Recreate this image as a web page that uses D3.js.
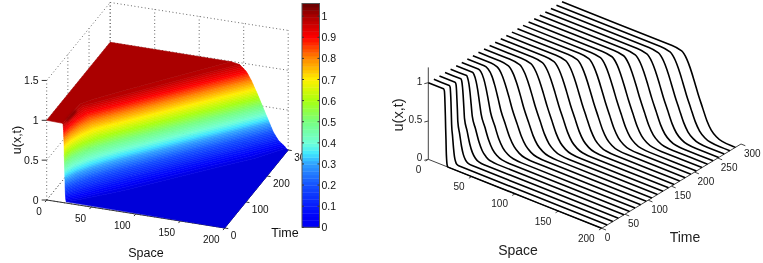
<!DOCTYPE html>
<html><head><meta charset="utf-8">
<style>html,body{margin:0;padding:0;background:#fff}svg{display:block;filter:blur(0.35px)}text{font-family:"Liberation Sans",Arial,sans-serif}</style>
<script src="https://cdn.jsdelivr.net/npm/d3@7"></script></head><body>
<svg id="c" width="763" height="263"></svg>
<script>
// Solution levels
const uLevels = [1,0.98,0.9,0.8,0.65,0.5,0.35,0.2,0.1,0.04,0.01,0];
// Left surface: times sampled, and the space position where u crosses each level
const surfaceTimes = [0,6,12,25,50,75,100,150,200,250,300];
const surfaceCrossings = [
[17.5,18.5,19,19.3,19.7,20,20.4,20.7,21.1,21.5,22,22.7],
[17.8,18.8,19.3,19.6,20,20.3,21.4,22.6,23.7,25,26.5,28.8],
[18,19,19.6,19.9,20.4,20.8,22.8,24.7,26.7,29,31.6,35.6],
[18.3,19.3,20.3,21,21.8,22.5,26,29.5,33,37,41.6,48.6],
[18.5,19.8,23,25.1,27.7,30,35.3,40.6,45.8,52,59,69.6],
[19,22,27.9,31.9,36.6,41,47.2,53.5,59.7,67,75.3,87.8],
[26,36,41.6,45.4,49.9,54,60.5,67,73.4,81,89.6,102.6],
[52,63,69.2,73.4,78.4,83,89.5,96,102.4,110,118.6,131.6],
[78,90,96.8,101.4,106.9,112,118.5,125,131.4,139,147.6,160.6],
[105,117,124.6,129.7,135.9,141.5,147.9,154.2,160.6,168,176.5,189.2],
[132,145,153.1,158.5,165,171,177,183,189,196,198,199.5]];
// Right waterfall: time of each curve, and its level crossings
const curveTimes = [0,12,24,36,48,60,72,84,96,108,120,132,144,156,168,180,192,204,216,228,240,252,264,276,288];
const curveCrossings = [
[17.5,18.5,19,19.3,19.7,20,20.4,20.7,21.1,21.5,22,22.7],
[17.8,18.8,19.3,19.7,20.1,20.5,21.6,22.7,23.7,25,26.4,28.6],
[18,19,19.7,20.1,20.7,21.2,23.3,25.4,27.5,30,32.8,37],
[18.2,19.2,20.2,20.9,21.7,22.5,25.5,28.5,31.5,35,39,45],
[18.5,19.5,21.2,22.4,23.7,25,28.8,32.7,36.5,41,46.1,53.8],
[18.8,20.5,23,24.8,26.8,28.8,33.1,37.5,41.8,47,52.9,61.8],
[19,22,25.4,27.8,30.6,33.2,37.9,42.6,47.4,53,59.4,69],
[19.5,24,28.6,31.7,35.4,38.8,43.8,48.9,54,60,66.8,77],
[21,28,33.5,37.2,41.6,45.6,50.7,55.9,61,67,73.8,84.1],
[25,34.6,40.2,44,48.5,52.6,57.7,62.9,68,74,80.8,91.1],
[30,41,46.8,50.7,55.3,59.6,64.7,69.9,75,81,87.8,98.1],
[36.6,47.6,53.5,57.5,62.2,66.6,71.6,76.7,81.7,87.6,94.3,104.4],
[43.5,54.5,60.4,64.4,69.1,73.5,78.5,83.6,88.6,94.5,101.2,111.3],
[50.4,61.4,67.3,71.3,76,80.4,85.4,90.5,95.5,101.4,108.1,118.2],
[57.4,68.4,74.3,78.3,83,87.4,92.4,97.5,102.5,108.4,115.1,125.2],
[64.4,75.4,81.3,85.3,90,94.4,99.4,104.5,109.5,115.4,122.1,132.2],
[71.3,82.3,88.2,92.2,96.9,101.3,106.3,111.4,116.4,122.3,129,139.1],
[78.3,89.3,95.2,99.2,103.9,108.3,113.3,118.4,123.4,129.3,136,146.1],
[85.2,96.2,102.1,106.1,110.8,115.2,120.2,125.3,130.3,136.2,142.9,153],
[92.2,103.2,109.1,113.1,117.8,122.2,127.2,132.3,137.3,143.2,149.9,160],
[99.2,110.2,116.1,120.1,124.8,129.2,134.2,139.3,144.3,150.2,156.9,167],
[106.1,117.1,123,127,131.7,136.1,141.1,146.2,151.2,157.1,163.8,173.9],
[113.1,124.1,130,134,138.7,143.1,148.1,153.2,158.2,164.1,170.8,180.9],
[120,131,136.9,140.9,145.6,150,155,160.1,165.1,171,177.7,187.8],
[127,138,143.9,147.9,152.6,157,162,167.1,172.1,178,184.7,194.8]];
// Small overshoot above 1 near the start of the front
const overshootTimes = [10,20,30,40,50];
const overshootFrom = [19,19.2,19.4,19.7,20.5];
const overshootTo = [20,20.8,21.3,21.6,21.8];
const colorDomain = [0,0.05,0.2,0.3,0.35,0.4,0.5,0.6,0.7,0.8,0.9,1,1.06];
const colorRange = ["#0000d2","#0000fa","#1450ff","#30a0ff","#40e8ff","#70ffd8","#78ff80","#a8ff10","#fff000","#ff8800","#ff0000","#aa0000","#640000"];
const leftSpaceTicks = [0,50,100,150,200], leftTimeTicks = [0,100,200,300], leftUTicks = [0,0.5,1,1.5];
const barTicks = [0,0.1,0.2,0.3,0.4,0.5,0.6,0.7,0.8,0.9,1];
const rightSpaceTicks = [0,50,100,150,200], rightTimeTicks = [0,50,100,150,200,250,300], rightUTicks = [0,0.5,1];

const svg = d3.select("#c");
const space = [0,200], time=[0,300];
function projector(o,sv,tv,uScale){
  const sx=d3.scaleLinear().domain(space).range([0,sv[0]]), sy=d3.scaleLinear().domain(space).range([0,sv[1]]);
  const tx=d3.scaleLinear().domain(time).range([0,tv[0]]), ty=d3.scaleLinear().domain(time).range([0,tv[1]]);
  const uy=d3.scaleLinear().domain([0,1]).range([0,uScale]);
  return (s,t,u)=>[o[0]+sx(s)+tx(t), o[1]+sy(s)+ty(t)-uy(u)];
}
const PL = projector([46.7,200],[178,28],[63.5,-78],79.7);
const PR = projector([428.3,159.3],[173.4,69],[139.3,-84.3],76.6);
const color = d3.scaleLinear().domain(colorDomain).range(colorRange);
const poly = pts => "M"+pts.map(p=>p[0].toFixed(2)+","+p[1].toFixed(2)).join("L")+"Z";
function label(g,x,y,s,size,anchor,fill){return g.append("text").attr("x",x).attr("y",y).attr("font-size",size).attr("text-anchor",anchor||"middle").attr("dominant-baseline","central").attr("fill",fill||"#111").text(s);}

/* ---------- left surface ---------- */
const L = svg.append("g");
const grid = L.append("g").attr("fill","none").attr("stroke","#666").attr("stroke-width",1).attr("stroke-dasharray","1 2.5");
const seg=(a,b)=>grid.append("path").attr("d","M"+a+"L"+b);
const uMax=1.5;
leftUTicks.forEach(u=>{ seg(PL(0,0,u),PL(0,300,u)); seg(PL(0,300,u),PL(200,300,u)); });
leftTimeTicks.forEach(t=>{ seg(PL(0,t,0),PL(0,t,uMax)); seg(PL(0,t,0),PL(200,t,0)); });
leftSpaceTicks.forEach(s=>{ seg(PL(s,300,0),PL(s,300,uMax)); seg(PL(s,0,0),PL(s,300,0)); });
const axL=L.append("g").attr("stroke","#333").attr("stroke-width",1).attr("fill","none");
axL.append("path").attr("d","M"+PL(0,0,0)+"L"+PL(200,0,0)+"L"+PL(200,300,0));
leftSpaceTicks.forEach(s=>{const a=PL(s,0,0),b=PL(s,8,0);axL.append("path").attr("d","M"+[a[0]-(b[0]-a[0]),a[1]-(b[1]-a[1])]+"L"+a);});
leftTimeTicks.forEach(t=>{const a=PL(200,t,0),b=PL(196,t,0);axL.append("path").attr("d","M"+a+"L"+[a[0]+(a[0]-b[0]),a[1]+(a[1]-b[1])]);});
leftUTicks.forEach(u=>{const a=PL(0,0,u);axL.append("path").attr("d",`M${a[0]-5},${a[1]}L${a[0]},${a[1]}`);});

const crossAt = surfaceCrossings.map(r=>d3.scaleLinear().domain(uLevels).range(r).clamp(true));
const surf=L.append("g");
const nBands=64, barMax=1.06;
const bandColor=i=>color((i+0.5)/nBands*barMax);
d3.range(nBands).forEach(i=>{
  const lo=i/nBands*barMax, hi=(i+1)/nBands*barMax;
  if(lo>=1) return;
  const isTop=hi>=1, isBottom=i===0;
  const upper=surfaceTimes.map((t,k)=>isTop?PL(0,t,1):PL(crossAt[k](hi),t,hi));
  const lower=surfaceTimes.map((t,k)=>isBottom?PL(200,t,0):PL(crossAt[k](lo),t,lo));
  const fill=isTop?color(1):bandColor(i);
  surf.append("path").attr("d",poly(upper.concat(lower.reverse()))).attr("fill",fill).attr("stroke",fill).attr("stroke-width",0.6);
});
const over=overshootTimes.map((t,k)=>PL(overshootFrom[k],t,1.01)).concat(overshootTimes.map((t,k)=>PL(overshootTo[k],t,0.98)).reverse());
surf.append("path").attr("d",poly(over)).attr("fill",color(1.03)).style("filter","blur(0.8px)");

leftUTicks.forEach(u=>{const a=PL(0,0,u);label(L,a[0]-8,a[1],u,10.5,"end");});
leftSpaceTicks.forEach(s=>{const a=PL(s,0,0);label(L,a[0]-5,a[1]+11.5,s,10,"end");});
leftTimeTicks.forEach(t=>{const a=PL(200,t,0);label(L,a[0]+6,a[1]+7,t,10,"start");});
label(L,146,253,"Space",12.5);
label(L,285,233,"Time",12.5);
label(L,0,0,"u(x,t)",12.5).attr("transform","translate(16.5,140) rotate(-90)");

/* colour bar */
const bar=svg.append("g");
const barY=d3.scaleLinear().domain([0,barMax]).range([227.3,3.5]);
bar.append("rect").attr("x",302).attr("y",3.5).attr("width",17.5).attr("height",223.8).attr("fill","#fff");
d3.range(nBands).forEach(i=>{
  const lo=i/nBands*barMax, hi=(i+1)/nBands*barMax;
  bar.append("rect").attr("x",302).attr("width",17.5).attr("y",barY(hi)).attr("height",barY(lo)-barY(hi)+0.4).attr("fill",i<3?"#0000f5":bandColor(i));
});
bar.append("rect").attr("x",302).attr("y",3.5).attr("width",17.5).attr("height",223.8).attr("fill","none").attr("stroke","#555");
barTicks.forEach(v=>{
  bar.append("path").attr("d",`M319.5,${barY(v)}h-2M302,${barY(v)}h2`).attr("stroke","#333");
  label(bar,321.5,barY(v),v,10.5,"start");
});

/* ---------- right waterfall ---------- */
const R=svg.append("g");
const axR=R.append("g").attr("stroke","#444").attr("stroke-width",1).attr("fill","none");
axR.append("path").attr("d","M"+PR(0,0,1.2)+"L"+PR(0,0,0)+"L"+PR(200,0,0)+"L"+PR(200,300,0));
rightUTicks.forEach(u=>{const a=PR(0,0,u);axR.append("path").attr("d",`M${a[0]-4},${a[1]+1}L${a[0]},${a[1]}`);});
rightSpaceTicks.forEach(s=>{const a=PR(s,0,0),b=PR(s,6,0);axR.append("path").attr("d","M"+a+"L"+[a[0]-(b[0]-a[0]),a[1]-(b[1]-a[1])]);});
rightTimeTicks.forEach(t=>{const a=PR(200,t,0),b=PR(195,t,0);axR.append("path").attr("d","M"+a+"L"+[a[0]+(a[0]-b[0]),a[1]+(a[1]-b[1])]);});
// Curves are built in (space, u) and sheared onto the page, so flat tails stay straight
const origin=PR(0,0,0), perSpace=PR(1,0,0), perU=PR(0,0,1);
const lineGen=d3.line().curve(d3.curveMonotoneX);
const curves=R.append("g").attr("fill","none").attr("stroke","#000");
curveTimes.forEach((t,k)=>{
  const pts=[[0,1]].concat(curveCrossings[k].map((x,j)=>[x,uLevels[j]]),[[200,0]]);
  const o=PR(0,t,0);
  curves.append("path").attr("d",lineGen(pts))
    .attr("transform",`matrix(${perSpace[0]-origin[0]},${perSpace[1]-origin[1]},0,${perU[1]-origin[1]},${o[0]},${o[1]})`)
    .attr("vector-effect","non-scaling-stroke").attr("stroke-width",1.6);
});
rightUTicks.forEach(u=>{const a=PR(0,0,u);label(R,a[0]-6,a[1]-1.5,u,10,"end","#222");});
rightSpaceTicks.forEach(s=>{const a=PR(s,0,0);label(R,a[0]-7,a[1]+10,s,10,"end","#222");});
rightTimeTicks.forEach(t=>{const a=PR(200,t,0);label(R,a[0]+3,a[1]+9,t,10,"start","#222");});
label(R,518,250,"Space",14,"middle","#222");
label(R,685,237,"Time",14,"middle","#222");
label(R,0,0,"u(x,t)",14.5,"middle","#222").attr("transform","translate(398,115) rotate(-90)");
</script></body></html>
